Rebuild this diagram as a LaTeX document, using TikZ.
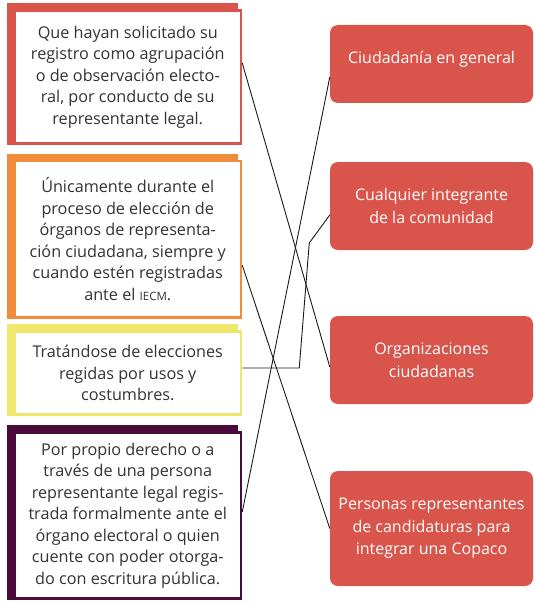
\documentclass[tikz,border=0pt]{standalone}
\usepackage{fontspec}
\setmainfont{Open Sans}
\definecolor{boxRed}{RGB}{217, 85, 75}
\definecolor{boxOrange}{RGB}{241, 140, 59}
\definecolor{boxYellow}{RGB}{238, 232, 108}
\definecolor{boxPlum}{RGB}{77, 11, 59}
\definecolor{textGray}{RGB}{51, 51, 51}
\usepackage{tikz}
\usetikzlibrary{positioning, backgrounds}

\begin{document}
\begin{tikzpicture}[x=1pt, y=-1pt,
    opcion/.style={draw=#1, line width=2.5pt, fill=white, text=textGray,
      minimum width=226.5pt, align=center, inner sep=0pt,
      font=\fontsize{16.2}{21.5}\selectfont},
    sujeto/.style={fill=boxRed, rounded corners=8pt, text=white,
      minimum width=203pt, align=center, inner sep=0pt,
      font=\fontsize{16}{22.5}\selectfont},
    liga/.style={draw=black!90, line width=0.9pt}]
                \useasboundingbox (0,0) rectangle (534,604);

                % Left column: who may register
                \node[opcion=boxRed, minimum height=133pt] (requisito) at (127.75,77)
                    {Que hayan solicitado su\\registro como agrupación\\o de observación electo-\\ral, por conducto de su\\representante legal.};
                \node[opcion=boxOrange, minimum height=156.5pt] (unicamente) at (127.75,239.25)
                    {Únicamente durante el\\proceso de elección de\\órganos de representa-\\ción ciudadana, siempre y\\cuando estén registradas\\ante el {\fontsize{11.5}{21.5}\selectfont IECM}.};
                \node[opcion=boxYellow, minimum height=83pt] (usos) at (127.75,373)
                    {Tratándose de elecciones\\regidas por usos y\\costumbres.};
                \node[opcion=boxPlum, minimum height=166pt] (derecho) at (127.75,515.5)
                    {Por propio derecho o a\\través de una persona\\representante legal regis-\\trada formalmente ante el\\órgano electoral o quien\\cuente con poder otorga-\\do con escritura pública.};

                % Thick offset band behind each left box
                \begin{scope}[on background layer]
                    \foreach \n/\c in {requisito/boxRed, unicamente/boxOrange, usos/boxYellow, derecho/boxPlum} {
                        \fill[\c] ([shift={(-6pt,6pt)}]\n.north west) rectangle ([xshift=-4pt]\n.south east);
                    }
                \end{scope}

                % Right column: subjects
                \node[sujeto, minimum height=78pt, text depth=13pt] (ciudadania) at (431.5,64) {Ciudadanía en general};
                \node[sujeto, minimum height=88pt] (integrante) at (431.5,206) {Cualquier integrante\\de la comunidad};
                \node[sujeto, minimum height=88pt] (organizaciones) at (431.5,360) {Organizaciones\\ciudadanas};
                \node[sujeto, minimum height=115pt] (personas) at (431.5,528.5) {Personas representantes\\de candidaturas para\\integrar una Copaco};

                % Matching lines
                \draw[liga] ([yshift=14pt]requisito.east) -- ([yshift=-7pt]organizaciones.west);
                \draw[liga] ([yshift=-26pt]unicamente.east) -- (personas.west);
                \draw[liga] ([yshift=5pt]usos.east) -- ++(57pt,0) -- ++(10pt,125pt) -- ([yshift=-9pt]integrante.west);
                \draw[liga] ([yshift=3.5pt]derecho.east) -- ([yshift=-13pt]ciudadania.west);
            \end{tikzpicture}
\end{document}
